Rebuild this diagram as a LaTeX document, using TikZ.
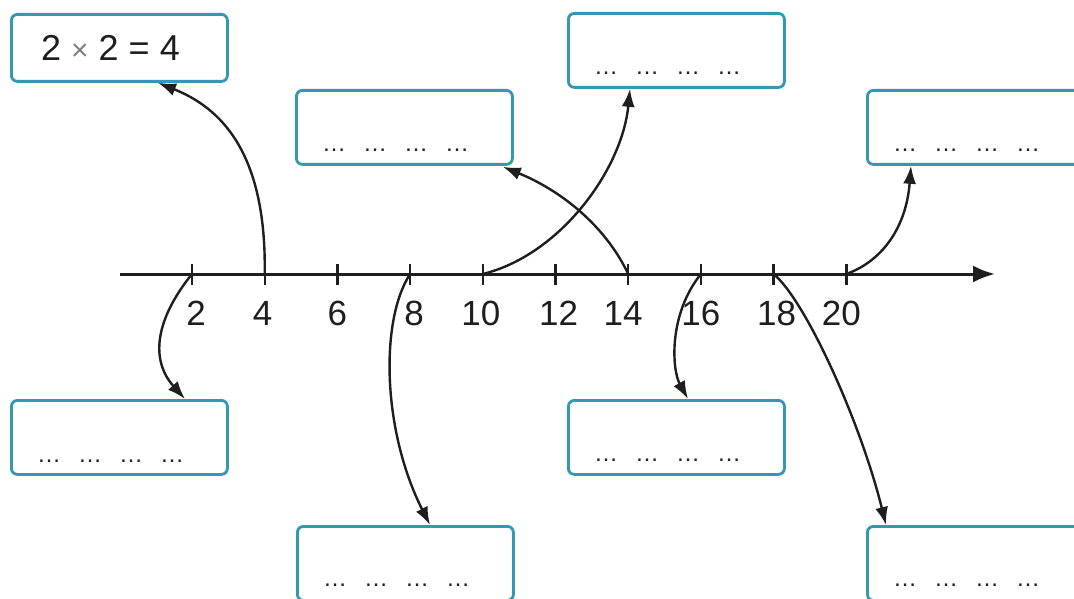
\documentclass[tikz,border=0pt]{standalone}
\usepackage{fontspec}
\setmainfont{Liberation Sans}
\usetikzlibrary{arrows.meta}
\definecolor{boxc}{RGB}{52,152,178}
\definecolor{inkc}{RGB}{30,30,30}
\newcommand{\dotrow}{…\hskip17pt…\hskip17pt…\hskip17pt…}
\begin{document}
\begin{tikzpicture}[x=1pt,y=1pt,
  answerbox/.style={draw=boxc, line width=2.8pt, rounded corners=6pt, fill=white,
    minimum width=216pt, minimum height=74pt, inner sep=0pt, anchor=north west},
  dotstext/.style={anchor=base west, inner sep=0pt, font=\fontsize{24}{24}\selectfont, text=inkc},
  ticklabel/.style={anchor=base, inner sep=0pt, font=\fontsize{35}{35}\selectfont, text=inkc},
  tickmark/.style={line width=2.4pt, draw=inkc},
  axisline/.style={line width=3pt, draw=inkc, -{Latex[length=22pt,width=17pt]}},
  curvearrow/.style={line width=2.4pt, draw=inkc, -{Latex[length=18pt,width=13pt]}}
]
\useasboundingbox (0,0) rectangle (1074,-599);
\fill[white] (0,0) rectangle (1074,-599);

% boxes
\node[answerbox, minimum height=67pt] (bA) at (10,-13) {};
\node[answerbox] (bB) at (295,-89) {};
\node[answerbox] (bC) at (567,-12) {};
\node[answerbox] (bD) at (866,-89) {};
\node[answerbox] (bE) at (10,-399) {};
\node[answerbox] (bF) at (296,-525) {};
\node[answerbox] (bG) at (567,-399) {};
\node[answerbox] (bH) at (866,-525) {};

% texts in boxes
\node[anchor=base west, inner sep=0pt, font=\fontsize{36}{36}\selectfont, text=inkc] (tA) at (41,-61)
  {2 {\color{gray}\fontsize{30}{30}\selectfont ×} 2 = 4};
\node[dotstext] (dB) at ([shift={(27,14)}]bB.south west) {\dotrow};
\node[dotstext] (dC) at ([shift={(27,14)}]bC.south west) {\dotrow};
\node[dotstext] (dD) at ([shift={(27,14)}]bD.south west) {\dotrow};
\node[dotstext] (dE) at ([shift={(27,13)}]bE.south west) {\dotrow};
\node[dotstext] (dF) at ([shift={(27,15)}]bF.south west) {\dotrow};
\node[dotstext] (dG) at ([shift={(27,14)}]bG.south west) {\dotrow};
\node[dotstext] (dH) at ([shift={(27,15)}]bH.south west) {\dotrow};

% axis
\coordinate (axs) at (120,-274);
\coordinate (axe) at (995,-274);
\draw[axisline] (axs) -- (axe);

% ticks
\foreach \v/\x/\dx in {2/192/4, 4/264.7/-2, 6/337.4/0, 8/410.1/4, 10/482.8/-2, 12/555.5/3, 14/628.2/-5, 16/700.9/0, 18/773.6/3, 20/846.3/-5}{
  \coordinate (t\v) at (\x,-274);
  \draw[tickmark] (\x,-264) -- (\x,-285);
  \node[ticklabel] (l\v) at (\x+\dx,-325) {\v};
}

% curved arrows
\draw[curvearrow] (t4) .. controls +(2,125) and +(60,-24) .. ([xshift=148pt]bA.south west);
\draw[curvearrow] (t2) .. controls (155,-320) and (150,-360) .. ([xshift=175pt]bE.north west);
\draw[curvearrow] (t8) .. controls (380,-320) and (382,-430) .. ([xshift=134pt]bF.north west);
\draw[curvearrow] (t10) .. controls (560,-255) and (622,-170) .. ([xshift=63pt]bC.south west);
\draw[curvearrow] (t14) .. controls (605,-225) and (560,-190) .. ([shift={(-11,-1)}]bB.south east);
\draw[curvearrow] (t16) .. controls (668,-315) and (672,-370) .. ([xshift=121pt]bG.north west);
\draw[curvearrow] (t18) .. controls (805,-300) and (860,-420) .. ([xshift=20pt]bH.north west);
\draw[curvearrow] (t20) .. controls (880,-262) and (906,-230) .. ([xshift=45pt]bD.south west);
\end{tikzpicture}
\end{document}
